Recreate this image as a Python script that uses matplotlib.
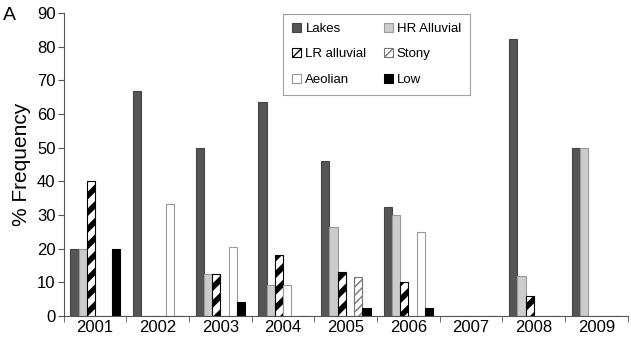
import numpy as np
import matplotlib
matplotlib.use("Agg")
import matplotlib.pyplot as plt

plt.rcParams['font.family'] = ['Liberation Sans', 'DejaVu Sans']

years = ['2001', '2002', '2003', '2004', '2005', '2006', '2007', '2008', '2009']
lakes = [20, 66.7, 50, 63.6, 46, 32.4, 0, 82.4, 50]
hr_alluvial = [20, 0, 12.5, 9.1, 26.4, 29.9, 0, 11.8, 50]
lr_alluvial = [40, 0, 12.5, 18.2, 13.1, 10, 0, 6, 0]
stony = [0, 0, 0, 9.1, 0, 0, 0, 0, 0]
aeolian = [0, 33.3, 20.5, 0, 11.7, 25, 0, 0, 0]
low = [20, 0, 4.1, 0, 2.3, 2.3, 0, 0, 0]

# series in slot order within each year
series = [
    ('Lakes', lakes, dict(color='#555555', edgecolor='#444444')),
    ('HR Alluvial', hr_alluvial, dict(color='#cccccc', edgecolor='#999999')),
    ('LR alluvial', lr_alluvial, dict(color='white', edgecolor='black', hatch='//')),
    ('Stony', stony, dict(color='white', edgecolor='#777777', hatch='////')),
    ('Aeolian', aeolian, dict(color='white', edgecolor='#999999')),
    ('Low', low, dict(color='black', edgecolor='black')),
]
hatch_lw = {'LR alluvial': 4.0, 'Stony': 0.8}

fig = plt.figure(figsize=(6.31, 3.38), dpi=100)
ax = fig.add_axes([0.101, 0.065, 0.894, 0.8965])

x = np.arange(len(years))
w = 0.132
containers = {}
for i, (name, vals, style) in enumerate(series):
    with plt.rc_context({'hatch.linewidth': hatch_lw.get(name, 1.0)}):
        bc = ax.bar(x + (i - 2.5) * w, vals, w, label=name, linewidth=0.8, **style)
    containers[name] = bc

# the 2004 slot-3 bar is drawn plain white, the 2005 slot-4 bar hatched
b = containers['Stony'][3]
b.set_hatch(None)
b.set_edgecolor('#999999')
b = containers['Aeolian'][4]
b.set_hatch('////')
b.set_edgecolor('#777777')

ax.set_xlim(-0.5, 8.5)
ax.set_ylim(0, 90)
ax.set_yticks(np.arange(0, 91, 10))
ax.set_xticks(x)
ax.set_xticklabels(years)
ax.set_xticks(np.arange(-0.5, 9, 1), minor=True)
ax.tick_params(axis='x', which='major', length=0, labelsize=12, pad=3)
ax.tick_params(axis='x', which='minor', length=4, color='#555555')
ax.tick_params(axis='y', length=4, labelsize=12, color='#555555', pad=2)
for s in ['top', 'right']:
    ax.spines[s].set_visible(False)
for s in ['left', 'bottom']:
    ax.spines[s].set_color('#555555')
ax.set_ylabel('% Frequency', fontsize=15, labelpad=4)
fig.text(0.005, 0.955, 'A', fontsize=14, va='center')

# legend reads row-wise: Lakes, HR / LR, Stony / Aeolian, Low
order = ['Lakes', 'LR alluvial', 'Aeolian', 'HR Alluvial', 'Stony', 'Low']
handles = [containers[n] for n in order]
leg = ax.legend(handles, order, ncol=2, loc='upper left', bbox_to_anchor=(0.377, 1.02),
                fontsize=9.5, frameon=True, fancybox=False, edgecolor='#888888',
                handlelength=0.7, handleheight=0.7, handletextpad=0.3,
                labelspacing=1.0, columnspacing=1.3, borderpad=0.7)
leg.get_frame().set_linewidth(0.8)

fig.savefig('out.png', dpi=100)
